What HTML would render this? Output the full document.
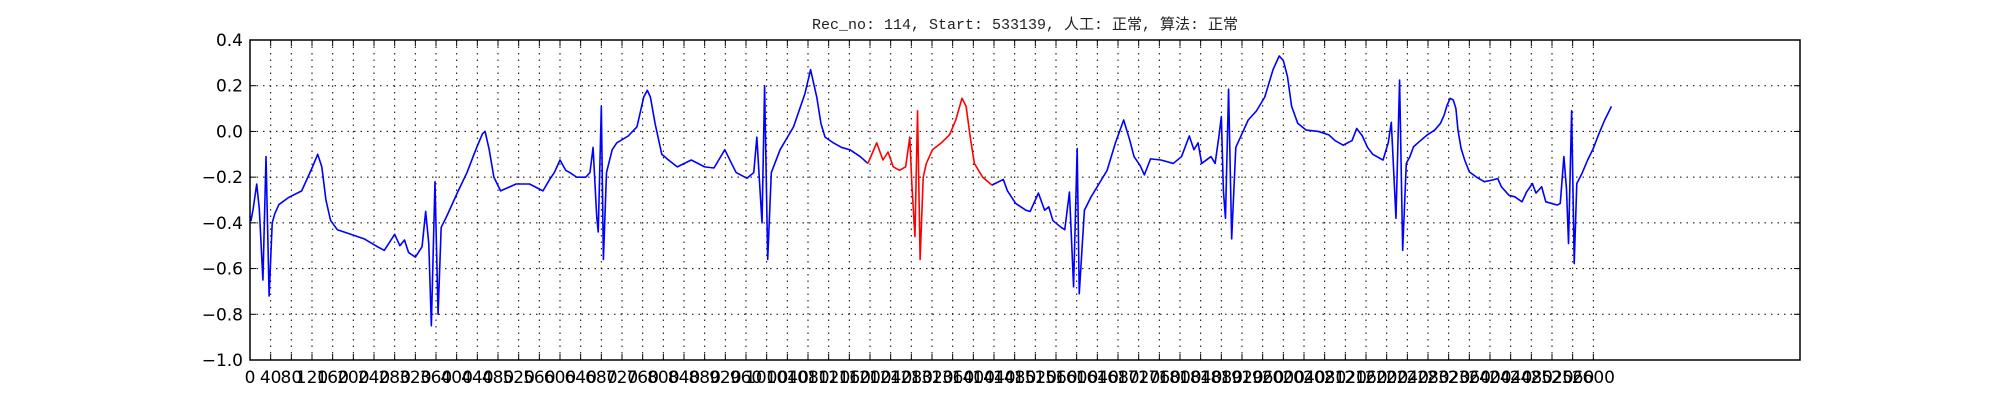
<!DOCTYPE html>
<html><head><meta charset="utf-8"><style>
html,body{margin:0;padding:0;background:#fff;}
svg{display:block;}
text{font-family:"DejaVu Sans","Liberation Sans",sans-serif;}
</style></head><body>
<svg id="chart" width="2000" height="400" viewBox="0 0 2000 400" xmlns="http://www.w3.org/2000/svg">
<text x="1025" y="29" text-anchor="middle" font-size="15" style="font-family:'Liberation Mono','WenQuanYi Zen Hei','Noto Sans CJK SC',monospace" fill="#222">Rec_no: 114, Start: 533139, 人工: 正常, 算法: 正常</text>
<g id="grid"></g>
<g id="ticks"></g>
<g id="series"></g>
<rect x="250" y="40" width="1550" height="320" fill="none" stroke="#000" stroke-width="1.5"/>
<g id="labels"></g>
</svg>
<script>
const sampleIdx = [0,2,6,13,18,25,31,37,43,48,56,74,100,121,131,139,147,156,169,195,221,247,260,280,290,299,307,320,333,340,346,351,358,364,370,381,403,420,437,450,455,463,472,485,515,541,567,580,589,600,611,619,632,650,658,664,671,674,680,684,690,701,710,732,749,762,769,775,784,797,810,827,854,880,898,919,932,941,962,975,981,988,991,996,1002,1009,1026,1052,1074,1085,1097,1105,1113,1129,1145,1161,1181,1196,1213,1225,1235,1245,1257,1269,1277,1281,1287,1292,1297,1303,1309,1321,1338,1354,1366,1378,1386,1394,1402,1418,1436,1458,1466,1482,1502,1510,1526,1538,1546,1554,1570,1577,1586,1594,1601,1605,1615,1627,1643,1659,1675,1691,1703,1711,1723,1731,1743,1763,1787,1803,1818,1827,1835,1842,1860,1868,1876,1880,1884,1888,1894,1900,1908,1920,1932,1948,1964,1980,1992,2000,2008,2016,2028,2044,2068,2088,2100,2116,2133,2142,2153,2163,2173,2193,2203,2209,2218,2225,2231,2238,2245,2252,2263,2278,2293,2304,2311,2317,2323,2329,2334,2338,2344,2351,2360,2374,2389,2404,2415,2422,2437,2448,2462,2471,2482,2489,2500,2508,2519,2530,2536,2543,2548,2552,2558,2563,2568,2578,2589,2600,2611,2622,2630,2635];
const amplitude = [-0.37,-0.39,-0.34,-0.23,-0.34,-0.65,-0.11,-0.72,-0.40,-0.36,-0.32,-0.29,-0.26,-0.155,-0.10,-0.155,-0.30,-0.39,-0.43,-0.45,-0.47,-0.505,-0.52,-0.45,-0.50,-0.475,-0.53,-0.55,-0.505,-0.35,-0.49,-0.85,-0.22,-0.80,-0.42,-0.37,-0.26,-0.18,-0.08,-0.01,0.0,-0.08,-0.20,-0.26,-0.23,-0.23,-0.26,-0.21,-0.18,-0.125,-0.17,-0.18,-0.20,-0.20,-0.18,-0.07,-0.37,-0.44,0.11,-0.56,-0.18,-0.08,-0.05,-0.02,0.02,0.15,0.18,0.15,0.035,-0.10,-0.125,-0.155,-0.125,-0.155,-0.16,-0.08,-0.14,-0.18,-0.205,-0.18,-0.025,-0.29,-0.40,0.20,-0.56,-0.18,-0.08,0.02,0.165,0.27,0.15,0.035,-0.025,-0.05,-0.07,-0.08,-0.11,-0.14,-0.05,-0.125,-0.09,-0.155,-0.17,-0.155,-0.025,-0.23,-0.46,0.09,-0.56,-0.20,-0.14,-0.08,-0.05,-0.015,0.05,0.145,0.11,-0.025,-0.14,-0.20,-0.235,-0.21,-0.26,-0.315,-0.345,-0.35,-0.27,-0.345,-0.33,-0.39,-0.42,-0.43,-0.265,-0.68,-0.075,-0.71,-0.345,-0.29,-0.23,-0.17,-0.05,0.05,-0.04,-0.11,-0.15,-0.19,-0.12,-0.125,-0.14,-0.11,-0.02,-0.08,-0.05,-0.14,-0.11,-0.14,-0.01,0.065,-0.26,-0.38,0.185,-0.47,-0.07,-0.01,0.05,0.09,0.15,0.27,0.33,0.31,0.24,0.11,0.035,0.006,0.0,-0.015,-0.04,-0.06,-0.04,0.013,-0.02,-0.07,-0.10,-0.125,-0.05,0.04,-0.38,0.225,-0.52,-0.14,-0.11,-0.067,-0.045,-0.016,0.006,0.035,0.07,0.115,0.145,0.137,0.10,0.006,-0.074,-0.125,-0.177,-0.20,-0.22,-0.213,-0.206,-0.242,-0.28,-0.286,-0.308,-0.264,-0.228,-0.27,-0.242,-0.308,-0.315,-0.322,-0.315,-0.11,-0.25,-0.49,0.09,-0.578,-0.228,-0.184,-0.125,-0.074,-0.009,0.05,0.086,0.11];
const highlightRange = [1196, 1436];
const yTickValues = [0.4,0.2,0.0,-0.2,-0.4,-0.6,-0.8,-1.0];
const yTickLabels = ["0.4","0.2","0.0","\u22120.2","\u22120.4","\u22120.6","\u22120.8","\u22121.0"];
const xTickStep = 40, xTickMax = 2600;

const NS = "http://www.w3.org/2000/svg";
const L = 250, R = 1800, T = 40, B = 360, XMAX = 3000, YMIN = -1.0, YMAX = 0.4;
const xs = u => L + (u / XMAX) * (R - L);
const ys = v => T + (YMAX - v) / (YMAX - YMIN) * (B - T);
function mk(tag, attrs, parent) {
  const e = document.createElementNS(NS, tag);
  for (const k in attrs) e.setAttribute(k, attrs[k]);
  parent.appendChild(e);
  return e;
}
const grid = document.getElementById('grid'), ticks = document.getElementById('ticks'),
      labels = document.getElementById('labels'), series = document.getElementById('series');

for (let u = 0; u <= xTickMax; u += xTickStep) {
  const x = xs(u);
  const g = mk('line', {x1:x, x2:x, y1:T, y2:B, stroke:'#000', 'stroke-width':1, 'stroke-dasharray':'1.5,5'}, grid);
  
  
  const t1 = mk('line', {x1:x, x2:x, y1:B, y2:B-6, stroke:'#000', 'stroke-width':1}, ticks);
  
  
  mk('line', {x1:x, x2:x, y1:T, y2:T+6, stroke:'#000', 'stroke-width':1}, ticks);
  const tx = mk('text', {x:x, y:383, 'text-anchor':'middle', 'font-size':17, fill:'#000'}, labels);
  tx.textContent = String(u);
  
  
}
yTickValues.forEach((v, i) => {
  const y = ys(v);
  if (i > 0 && i < yTickValues.length - 1) {
    const g = mk('line', {x1:L, x2:R, y1:y, y2:y, stroke:'#000', 'stroke-width':1, 'stroke-dasharray':'1.5,5'}, grid);
    
    
  }
  const t = mk('line', {x1:L, x2:L+6, y1:y, y2:y, stroke:'#000', 'stroke-width':1}, ticks);
  
  
  mk('line', {x1:R, x2:R-6, y1:y, y2:y, stroke:'#000', 'stroke-width':1}, ticks);
  const tx = mk('text', {x:243, y:y+6, 'text-anchor':'end', 'font-size':17, fill:'#000'}, labels);
  tx.textContent = yTickLabels[i];
  
  
});

function pathFor(filter) {
  let d = '';
  sampleIdx.forEach((u, i) => {
    if (!filter(u)) return;
    d += (d ? 'L' : 'M') + xs(u).toFixed(2) + ',' + ys(amplitude[i]).toFixed(2);
  });
  return d;
}
const b1 = mk('path', {d: pathFor(u => u <= highlightRange[0]), fill:'none', stroke:'#0000ff', 'stroke-width':1.6, 'stroke-linejoin':'round'}, series);


const rd = mk('path', {d: pathFor(u => u >= highlightRange[0] && u <= highlightRange[1]), fill:'none', stroke:'#ff0000', 'stroke-width':1.6, 'stroke-linejoin':'round'}, series);


const b2 = mk('path', {d: pathFor(u => u >= highlightRange[1]), fill:'none', stroke:'#0000ff', 'stroke-width':1.6, 'stroke-linejoin':'round'}, series);


</script>
</body></html>
